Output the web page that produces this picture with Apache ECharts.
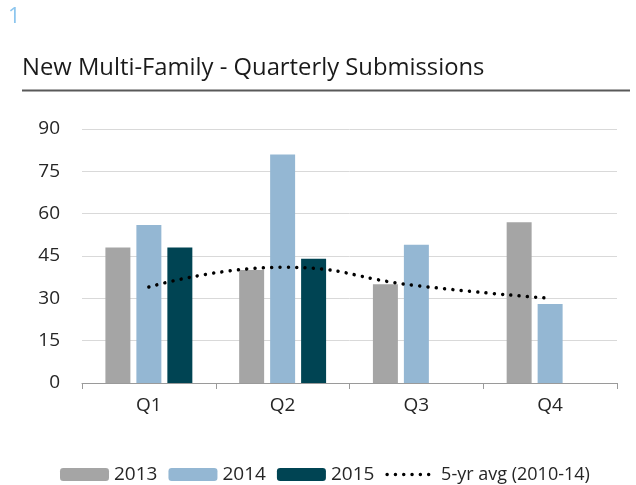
<!DOCTYPE html>
<html>
<head>
<meta charset="utf-8">
<script src="https://cdn.jsdelivr.net/npm/echarts@6/dist/echarts.min.js"></script>
<style>
  html, body { margin: 0; padding: 0; background: #fff; }
  #main { width: 636px; height: 485px; }
</style>
</head>
<body>
<div id="main"></div>
<script>
const quarters = ['Q1', 'Q2', 'Q3', 'Q4'];
const data2013 = [48, 40, 35, 57];
const data2014 = [56, 81, 49, 28];
const data2015 = [48, 44, null, null];
const avg5yr = [34, 41, 34.5, 30];

const font = 'Open Sans';
const textColor = '#262626';

let chart = echarts.init(document.getElementById('main'));

function bar(name, data, color) {
  return {
    name: name,
    type: 'bar',
    data: data,
    barGap: '24%',
    barCategoryGap: '35%',
    itemStyle: { color: color },
    emphasis: { disabled: true }
  };
}

const dotted = { color: '#000', width: 3.5, type: [0.01, 8.3], cap: 'round' };

chart.setOption({
  animation: false,
  textStyle: { fontFamily: font },
  title: [
    {
      text: '1',
      left: 8,
      top: 6,
      padding: 0,
      textStyle: { fontFamily: font, fontSize: 22, fontWeight: 'normal', color: '#8dc6ee' }
    },
    {
      text: 'New Multi-Family - Quarterly Submissions',
      left: 22,
      top: 56,
      padding: 0,
      textStyle: { fontFamily: font, fontSize: 23.8, fontWeight: 'normal', color: '#1a1a1a' }
    }
  ],
  graphic: [{
    type: 'line',
    shape: { x1: 22, y1: 90.5, x2: 630, y2: 90.5 },
    style: { stroke: '#595959', lineWidth: 2 }
  }],
  legend: {
    top: 465,
    left: 60,
    padding: 0,
    itemWidth: 49,
    itemHeight: 13,
    itemGap: 11,
    textStyle: { fontFamily: font, fontSize: 19, color: textColor },
    data: ['2013', '2014', '2015', {
      name: '5-yr avg (2010-14)',
      itemStyle: { opacity: 0 },
      lineStyle: dotted,
      textStyle: { fontSize: 18 }
    }]
  },
  grid: { left: 82, right: 19, top: 129, bottom: 102 },
  xAxis: {
    type: 'category',
    data: quarters,
    axisLine: { lineStyle: { color: '#9a9a9a', width: 1 } },
    axisTick: { show: true, length: 6, lineStyle: { color: '#9a9a9a' } },
    axisLabel: { fontSize: 19, color: textColor, margin: 13 }
  },
  yAxis: {
    type: 'value',
    min: 0,
    max: 90,
    interval: 15,
    axisLine: { show: false },
    axisTick: { show: false },
    axisLabel: { fontSize: 19, color: textColor, margin: 22 },
    splitLine: { lineStyle: { color: '#d9d9d9', width: 1 } }
  },
  series: [
    bar('2013', data2013, '#a5a5a5'),
    bar('2014', data2014, '#94b7d3'),
    bar('2015', data2015, '#004453'),
    {
      name: '5-yr avg (2010-14)',
      type: 'line',
      data: avg5yr,
      smooth: true,
      symbol: 'none',
      color: '#000',
      lineStyle: dotted,
      emphasis: { disabled: true },
      z: 5
    }
  ]
});
</script>
</body>
</html>
